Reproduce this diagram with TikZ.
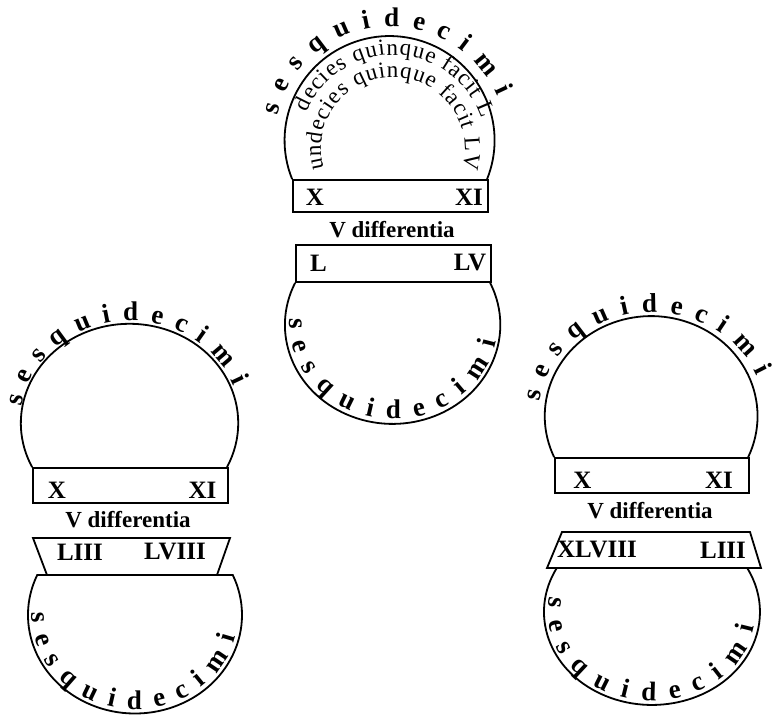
\documentclass[tikz,border=0pt]{standalone}
\usepackage{fontspec}
\setmainfont{Liberation Serif}
\usetikzlibrary{decorations.text}
\newcommand\arcfont{\fontsize{27}{31}\selectfont\bfseries}
\newcommand\innerfont{\fontsize{23}{27}\selectfont}
\tikzset{
  outline/.style={line width=1.8pt},
  boxnode/.style={draw, line width=1.8pt, inner sep=0pt, anchor=center},
  numlabel/.style={font=\fontsize{25}{28}\selectfont\bfseries, inner sep=0pt},
  difflabel/.style={font=\fontsize{23}{26}\selectfont\bfseries, inner sep=0pt},
  arctext/.style={decorate, decoration={text along path, text align=fit to path, text={|\arcfont|#1}}},
  innertext/.style={decorate, decoration={text along path, text align=fit to path, text={|\innerfont|#1}}},
}
\begin{document}
\begin{tikzpicture}[x=1pt,y=1pt]
\useasboundingbox (0,0) rectangle (778,715);
\fill[white] (0,0) rectangle (778,715);

% ---------- top group ----------
\node[boxnode, minimum width=195pt, minimum height=32pt] (tb1) at (390.5,519) {};
\node[numlabel] (tx1) at (315,518) {X};
\node[numlabel] (tx2) at (469,518) {XI};
\draw[outline] (tb1.north west) arc[start angle=201.8, end angle=-21.8, x radius=105, y radius=104.3];
\coordinate (tc1) at (390.5,573.7);
\path[arctext=sesquidecimi] ([shift={(167:116 and 115)}]tc1) arc[start angle=167, end angle=23, x radius=116, y radius=115];
\coordinate (tc2) at (393,566);
\path[innertext=decies quinque facit L] ([shift={(157:94)}]tc2) arc[start angle=157, end angle=19, radius=94];
\path[innertext=undecies quinque facit LV] ([shift={(196:72)}]tc2) arc[start angle=196, end angle=-16, radius=72];
\node[difflabel] (td) at (392,485) {V differentia};
\node[boxnode, minimum width=195pt, minimum height=37pt] (tb2) at (393.5,451.5) {};
\node[numlabel] (tx3) at (318.5,452) {L};
\node[numlabel] (tx4) at (470,452) {LV};
\draw[outline] (tb2.south west) arc[start angle=154.9, end angle=385.1, x radius=107.7, y radius=99];
\coordinate (tc4) at (393.8,391.1);
\path[arctext=sesquidecimi] ([shift={(176.5:104 and 95)}]tc4) arc[start angle=176.5, end angle=349.2, x radius=104, y radius=95];

% ---------- left group ----------
\node[boxnode, minimum width=195pt, minimum height=35pt] (lb1) at (130.5,229.5) {};
\node[numlabel] (lx1) at (57,225) {X};
\node[numlabel] (lx2) at (202.5,225) {XI};
\draw[outline] (lb1.north west) arc[start angle=206.3, end angle=-26.3, x radius=108.7, y radius=99.3];
\coordinate (lc1) at (130.5,291);
\path[arctext=sesquidecimi] ([shift={(170:111 and 103)}]lc1) arc[start angle=170, end angle=21.5, x radius=111, y radius=103];
\node[difflabel] (ld) at (128,195) {V differentia};
\coordinate (lt1) at (33,177);
\coordinate (lt2) at (230,177);
\coordinate (lt3) at (217,140);
\coordinate (lt4) at (47,140);
\draw[outline] (lt1) -- (lt2) -- (lt3) -- (lt4) -- cycle;
\node[numlabel] (lx3) at (80,163) {LIII};
\node[numlabel] (lx4) at (175,163) {LVIII};
\coordinate (la) at (37.22,140);
\draw[outline] (la) arc[start angle=156.04, end angle=383.96, x radius=107, y radius=98.5] -- cycle;
\coordinate (lc2) at (135,100);
\path[arctext=sesquidecimi] ([shift={(178.7:103 and 94.5)}]lc2) arc[start angle=178.7, end angle=347.2, x radius=103, y radius=94.5];

% ---------- right group ----------
\node[boxnode, minimum width=194pt, minimum height=35pt] (rb1) at (652,239.5) {};
\node[numlabel] (rx1) at (582.5,235) {X};
\node[numlabel] (rx2) at (719,235) {XI};
\draw[outline] (rb1.north west) arc[start angle=204.2, end angle=-24.2, x radius=106.4, y radius=100];
\coordinate (rc1) at (652,298);
\path[arctext=sesquidecimi] ([shift={(171.5:114 and 105)}]rc1) arc[start angle=171.5, end angle=23, x radius=114, y radius=105];
\node[difflabel] (rd) at (650,204) {V differentia};
\coordinate (rt1) at (562,183);
\coordinate (rt2) at (750,183);
\coordinate (rt3) at (761,147);
\coordinate (rt4) at (547,147);
\draw[outline] (rt1) -- (rt2) -- (rt3) -- (rt4) -- cycle;
\node[numlabel] (rx3) at (597,165) {XLVIII};
\node[numlabel] (rx4) at (723,165) {LIII};
\coordinate (ra) at (556.8,147);
\draw[outline] (ra) arc[start angle=151.8, end angle=388.2, x radius=108, y radius=93];
\coordinate (rc2) at (652,103);
\path[arctext=sesquidecimi] ([shift={(170:104 and 89)}]rc2) arc[start angle=170, end angle=350.5, x radius=104, y radius=89];
\end{tikzpicture}
\end{document}
